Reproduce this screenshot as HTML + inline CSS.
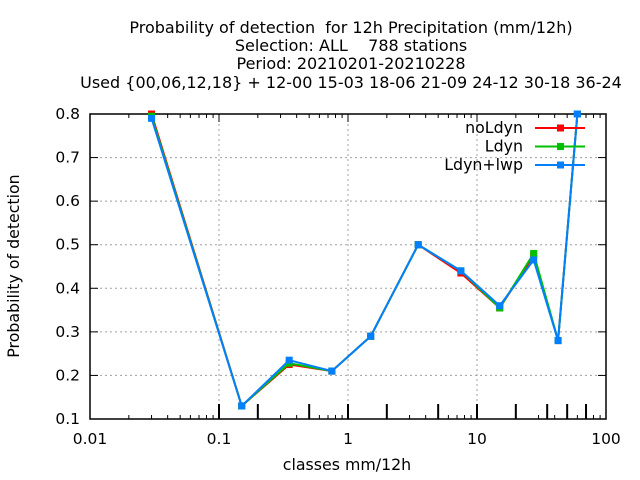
<!DOCTYPE html>
<html><head><meta charset="utf-8"><style>
body{margin:0;background:#fff}
svg{display:block;font-family:"DejaVu Sans","Liberation Sans",sans-serif}
</style></head><body>
<svg id="c" width="640" height="480">
<g font-size="16" text-anchor="middle" fill="#000">
<text x="351" y="33" xml:space="preserve">Probability of detection  for 12h Precipitation (mm/12h)</text>
<text x="351" y="51" xml:space="preserve">Selection: ALL    788 stations</text>
<text x="351" y="69">Period: 20210201-20210228</text>
<text x="351" y="88">Used {00,06,12,18} + 12-00 15-03 18-06 21-09 24-12 30-18 36-24</text>
</g>
<text x="0" y="0" font-size="15.8" text-anchor="middle" transform="translate(19,266) rotate(-90)">Probability of detection</text>
<text x="347" y="470" font-size="15.8" text-anchor="middle">classes mm/12h</text>
<g id="grid"></g><g id="axes"></g><g id="series"></g><g id="legend"></g>
</svg>
<script>
const xCenters=[0.03,0.15,0.35,0.75,1.5,3.5,7.5,15,27.5,42.5,60];
const classBounds=[0.1,0.2,0.5,1,2,5,10,20,35,50,70];
const seriesNames=["noLdyn","Ldyn","Ldyn+lwp"];
const noLdyn=[0.80,0.13,0.225,0.21,0.29,0.50,0.435,0.355,0.475,0.28,0.80];
const ldyn=[0.795,0.13,0.228,0.21,0.29,0.50,0.44,0.355,0.48,0.28,0.80];
const ldynLwp=[0.79,0.13,0.235,0.21,0.29,0.50,0.44,0.36,0.465,0.28,0.80];
const yTicks=[0.1,0.2,0.3,0.4,0.5,0.6,0.7,0.8];
const xTicks=[0.01,0.1,1,10,100];
const NS="http://www.w3.org/2000/svg";
const L=90,R=606,T=114,B=419;
const sx=v=>L+(Math.log10(v)+2)/4*(R-L);
const sy=v=>B-(v-0.1)/0.7*(B-T);
function mk(tag,attrs,parent){const e=document.createElementNS(NS,tag);for(const k in attrs)e.setAttribute(k,attrs[k]);parent.appendChild(e);return e;}
const grid=document.getElementById('grid'),axes=document.getElementById('axes');
yTicks.forEach(t=>{const y=sy(t);
 if(t>0.1&&t<0.8){const g=mk('line',{x1:L,x2:R,y1:y,y2:y,stroke:'#a0a0a0','stroke-dasharray':'2,3'},grid);
 
 }
 mk('line',{x1:L,x2:L+8,y1:y,y2:y,stroke:'#000'},axes);
 mk('line',{x1:R,x2:R-8,y1:y,y2:y,stroke:'#000'},axes);
 const tx=mk('text',{x:L-10,y:y+5,'font-size':15.5,'text-anchor':'end'},axes);tx.textContent=t.toFixed(1);
 
 
});
xTicks.forEach((t,i)=>{const x=sx(t);
 if(i>0&&i<xTicks.length-1){const g=mk('line',{x1:x,x2:x,y1:T,y2:B,stroke:'#a0a0a0','stroke-dasharray':'2,3'},grid);
 
 }
 mk('line',{x1:x,x2:x,y1:B,y2:B-8,stroke:'#000'},axes);
 mk('line',{x1:x,x2:x,y1:T,y2:T+8,stroke:'#000'},axes);
 const tx=mk('text',{x:x,y:444,'font-size':15.5,'text-anchor':'middle'},axes);tx.textContent=String(t);
 
 
 if(i<xTicks.length-1)for(let m=2;m<10;m++){const mx=sx(t*m);
  mk('line',{x1:mx,x2:mx,y1:B,y2:B-4,stroke:'#000'},axes);
  mk('line',{x1:mx,x2:mx,y1:T,y2:T+4,stroke:'#000'},axes);}
});
classBounds.forEach(b=>{const x=sx(b);const l=mk('line',{x1:x,x2:x,y1:B,y2:B-15,stroke:'#000','stroke-width':2},axes);
 
 });
const fr=mk('rect',{x:L,y:T,width:R-L,height:B-T,fill:'none',stroke:'#000','stroke-width':1.5},axes);


const colors=['#ff0000','#00c000','#0080ff'];
const all=[noLdyn,ldyn,ldynLwp];
const ser=document.getElementById('series'),leg=document.getElementById('legend');
all.forEach((d,si)=>{
 const g=mk('g',{},ser);
 
 
 mk('polyline',{points:d.map((v,i)=>sx(xCenters[i])+','+sy(v)).join(' '),fill:'none',stroke:colors[si],'stroke-width':2},g);
 d.forEach((v,i)=>{const p=mk('rect',{x:sx(xCenters[i])-3.5,y:sy(v)-3.5,width:7,height:7,fill:colors[si]},g);
  
  });
 const ly=128+si*18.5;
 const lg=mk('g',{},leg);
 
 
 const t=mk('text',{x:523,y:ly+5,'font-size':15.8,'text-anchor':'end'},lg);t.textContent=seriesNames[si];
 mk('line',{x1:535,x2:585,y1:ly,y2:ly,stroke:colors[si],'stroke-width':2},lg);
 mk('rect',{x:557,y:ly-3.5,width:7,height:7,fill:colors[si]},lg);
});
</script>
</body></html>
